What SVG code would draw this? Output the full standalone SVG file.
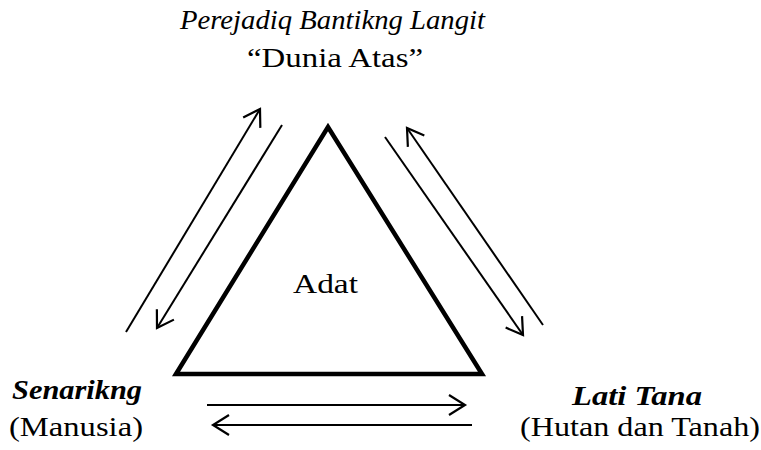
<svg xmlns="http://www.w3.org/2000/svg" width="761" height="450" viewBox="0 0 761 450">
<style>
text{font-family:"Liberation Serif","Times New Roman",serif;font-size:28px;fill:#000}
.it{font-style:italic}
.bi{font-style:italic;font-weight:bold}
.arr{stroke:#000;stroke-width:2;fill:none;marker-end:url(#ah)}
</style>
<defs>
<marker id="ah" markerUnits="userSpaceOnUse" viewBox="-20 -12 24 24" refX="0" refY="0" markerWidth="24" markerHeight="24" orient="auto">
<path d="M-16,-10 L0,0 L-16,10" fill="none" stroke="#000" stroke-width="2.2" stroke-linejoin="miter"/>
</marker>
</defs>
<rect width="761" height="450" fill="#fff"/>
<g id="adat">
<path d="M176,374 L328,127 L482,374 Z" fill="none" stroke="#000" stroke-width="4.5" stroke-linejoin="miter"/>
<text x="293" y="293" textLength="65" lengthAdjust="spacingAndGlyphs">Adat</text>
</g>
<g id="dunia-atas">
<text class="it" x="180" y="29" textLength="305" lengthAdjust="spacingAndGlyphs">Perejadiq Bantikng Langit</text>
<text x="247" y="67" textLength="176" lengthAdjust="spacingAndGlyphs">“Dunia Atas”</text>
</g>
<g id="senarikng">
<text class="bi" x="12" y="399" textLength="130" lengthAdjust="spacingAndGlyphs">Senarikng</text>
<text x="9" y="436" textLength="134" lengthAdjust="spacingAndGlyphs">(Manusia)</text>
</g>
<g id="lati-tana">
<text class="bi" x="572" y="405" textLength="130" lengthAdjust="spacingAndGlyphs">Lati Tana</text>
<text x="520" y="436" textLength="240" lengthAdjust="spacingAndGlyphs">(Hutan dan Tanah)</text>
</g>
<g id="connectors">
<line class="arr" x1="126" y1="332" x2="260" y2="109"/>
<line class="arr" x1="282" y1="125" x2="157" y2="328"/>
<line class="arr" x1="543" y1="325" x2="407" y2="128"/>
<line class="arr" x1="385" y1="137" x2="523" y2="335"/>
<line class="arr" x1="207" y1="405" x2="465" y2="405"/>
<line class="arr" x1="472" y1="425" x2="213" y2="425"/>
</g>
</svg>
